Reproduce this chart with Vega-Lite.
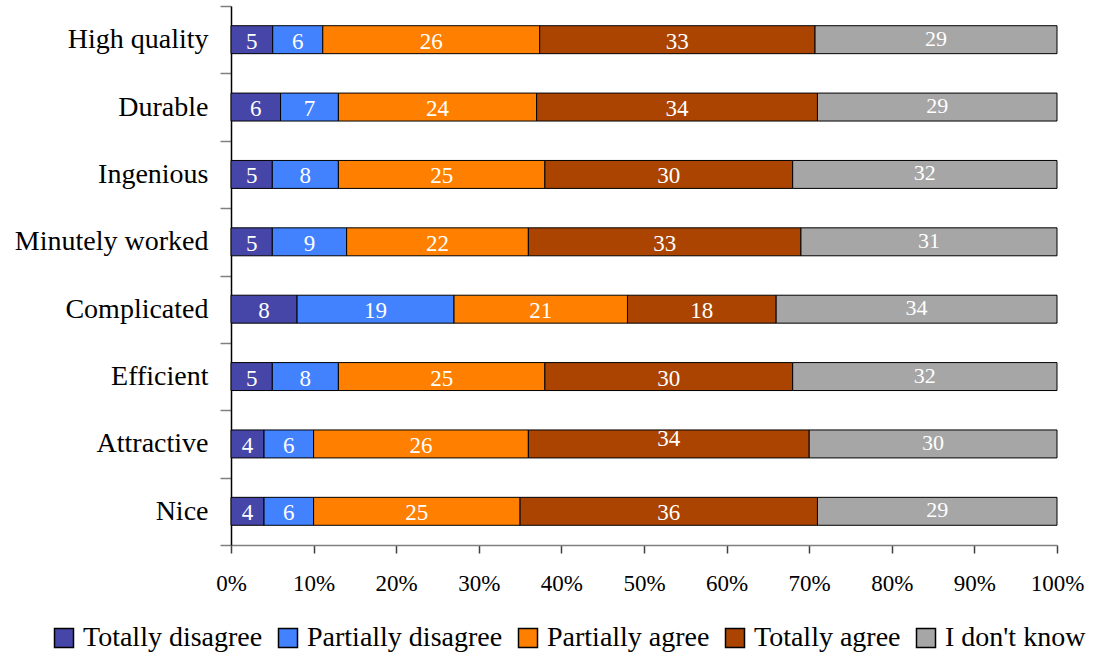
{
  "$schema": "https://vega.github.io/schema/vega-lite/v6.json",
  "autosize": {"type": "none"},
  "padding": {"left": 231, "top": 6, "right": 42, "bottom": 110},
  "width": 826,
  "height": 539,
  "background": "white",
  "config": {
    "font": "Liberation Serif",
    "view": {"stroke": null}
  },
  "data": {
    "values": [
      {"item": "High quality", "answer": "Totally disagree", "n": 5},
      {"item": "High quality", "answer": "Partially disagree", "n": 6},
      {"item": "High quality", "answer": "Partially agree", "n": 26},
      {"item": "High quality", "answer": "Totally agree", "n": 33},
      {"item": "High quality", "answer": "I don't know", "n": 29},
      {"item": "Durable", "answer": "Totally disagree", "n": 6},
      {"item": "Durable", "answer": "Partially disagree", "n": 7},
      {"item": "Durable", "answer": "Partially agree", "n": 24},
      {"item": "Durable", "answer": "Totally agree", "n": 34},
      {"item": "Durable", "answer": "I don't know", "n": 29},
      {"item": "Ingenious", "answer": "Totally disagree", "n": 5},
      {"item": "Ingenious", "answer": "Partially disagree", "n": 8},
      {"item": "Ingenious", "answer": "Partially agree", "n": 25},
      {"item": "Ingenious", "answer": "Totally agree", "n": 30},
      {"item": "Ingenious", "answer": "I don't know", "n": 32},
      {"item": "Minutely worked", "answer": "Totally disagree", "n": 5},
      {"item": "Minutely worked", "answer": "Partially disagree", "n": 9},
      {"item": "Minutely worked", "answer": "Partially agree", "n": 22},
      {"item": "Minutely worked", "answer": "Totally agree", "n": 33},
      {"item": "Minutely worked", "answer": "I don't know", "n": 31},
      {"item": "Complicated", "answer": "Totally disagree", "n": 8},
      {"item": "Complicated", "answer": "Partially disagree", "n": 19},
      {"item": "Complicated", "answer": "Partially agree", "n": 21},
      {"item": "Complicated", "answer": "Totally agree", "n": 18},
      {"item": "Complicated", "answer": "I don't know", "n": 34},
      {"item": "Efficient", "answer": "Totally disagree", "n": 5},
      {"item": "Efficient", "answer": "Partially disagree", "n": 8},
      {"item": "Efficient", "answer": "Partially agree", "n": 25},
      {"item": "Efficient", "answer": "Totally agree", "n": 30},
      {"item": "Efficient", "answer": "I don't know", "n": 32},
      {"item": "Attractive", "answer": "Totally disagree", "n": 4},
      {"item": "Attractive", "answer": "Partially disagree", "n": 6},
      {"item": "Attractive", "answer": "Partially agree", "n": 26},
      {"item": "Attractive", "answer": "Totally agree", "n": 34},
      {"item": "Attractive", "answer": "I don't know", "n": 30},
      {"item": "Nice", "answer": "Totally disagree", "n": 4},
      {"item": "Nice", "answer": "Partially disagree", "n": 6},
      {"item": "Nice", "answer": "Partially agree", "n": 25},
      {"item": "Nice", "answer": "Totally agree", "n": 36},
      {"item": "Nice", "answer": "I don't know", "n": 29}
    ]
  },
  "transform": [
    {"calculate": "indexof(['Totally disagree','Partially disagree','Partially agree','Totally agree','I don\\'t know'], datum.answer)", "as": "rank"},
    {"stack": "n", "groupby": ["item"], "sort": [{"field": "rank", "order": "ascending"}], "offset": "normalize", "as": ["x0", "x1"]},
    {"calculate": "(datum.x0 + datum.x1) / 2", "as": "mid"}
  ],
  "encoding": {
    "y": {
      "field": "item",
      "type": "nominal",
      "sort": ["High quality", "Durable", "Ingenious", "Minutely worked", "Complicated", "Efficient", "Attractive", "Nice"],
      "scale": {"paddingInner": 0, "paddingOuter": 0},
      "axis": {
        "title": null,
        "tickBand": "extent",
        "labelFontSize": 28,
        "labelColor": "black",
        "labelPadding": 12,
        "labelLimit": 300,
        "tickSize": 11,
        "tickColor": "#808080",
        "tickWidth": 1.5,
        "domainColor": "black",
        "domainWidth": 1.5
      }
    }
  },
  "layer": [
    {
      "mark": {"type": "bar", "stroke": "black", "strokeWidth": 1, "height": {"band": 0.415}},
      "encoding": {
        "x": {
          "field": "x0",
          "type": "quantitative",
          "scale": {"domain": [0, 1], "nice": false},
          "axis": {
            "title": null,
            "format": ".0%",
            "values": [0, 0.1, 0.2, 0.3, 0.4, 0.5, 0.6, 0.7, 0.8, 0.9, 1],
            "grid": false,
            "labelFontSize": 23,
            "labelColor": "black",
            "labelPadding": 19,
            "labelFlush": false,
            "tickSize": 8,
            "tickColor": "#404040",
            "tickWidth": 1.5,
            "domainColor": "#808080",
            "domainWidth": 1.5
          }
        },
        "x2": {"field": "x1"},
        "color": {
          "field": "answer",
          "type": "nominal",
          "scale": {
            "domain": ["Totally disagree", "Partially disagree", "Partially agree", "Totally agree", "I don't know"],
            "range": ["#4646A8", "#4282FF", "#FF8000", "#AA4400", "#A6A6A6"]
          },
          "legend": {
            "title": null,
            "orient": "none",
            "direction": "horizontal",
            "legendX": -181,
            "legendY": 618,
            "padding": 0,
            "symbolType": "square",
            "symbolSize": 361,
            "symbolStrokeColor": "black",
            "symbolStrokeWidth": 1.5,
            "labelFontSize": 28,
            "labelColor": "black",
            "labelOffset": 5,
            "columnPadding": 11,
            "labelLimit": 400
          }
        }
      }
    },
    {
      "transform": [{"filter": "datum.answer !== \"I don't know\" && !(datum.item === 'Attractive' && datum.answer === 'Totally agree')"}],
      "mark": {"type": "text", "color": "white", "fontSize": 23, "baseline": "middle", "dy": 2},
      "encoding": {
        "x": {"field": "mid", "type": "quantitative"},
        "text": {"field": "n", "type": "quantitative"}
      }
    },
    {
      "transform": [{"filter": "datum.answer === \"I don't know\""}],
      "mark": {"type": "text", "color": "white", "fontSize": 22, "baseline": "middle", "dy": -1},
      "encoding": {
        "x": {"field": "mid", "type": "quantitative"},
        "text": {"field": "n", "type": "quantitative"}
      }
    },
    {
      "transform": [{"filter": "datum.item === 'Attractive' && datum.answer === 'Totally agree'"}],
      "mark": {"type": "text", "color": "white", "fontSize": 23, "baseline": "middle", "dy": -5},
      "encoding": {
        "x": {"field": "mid", "type": "quantitative"},
        "text": {"field": "n", "type": "quantitative"}
      }
    }
  ]
}
